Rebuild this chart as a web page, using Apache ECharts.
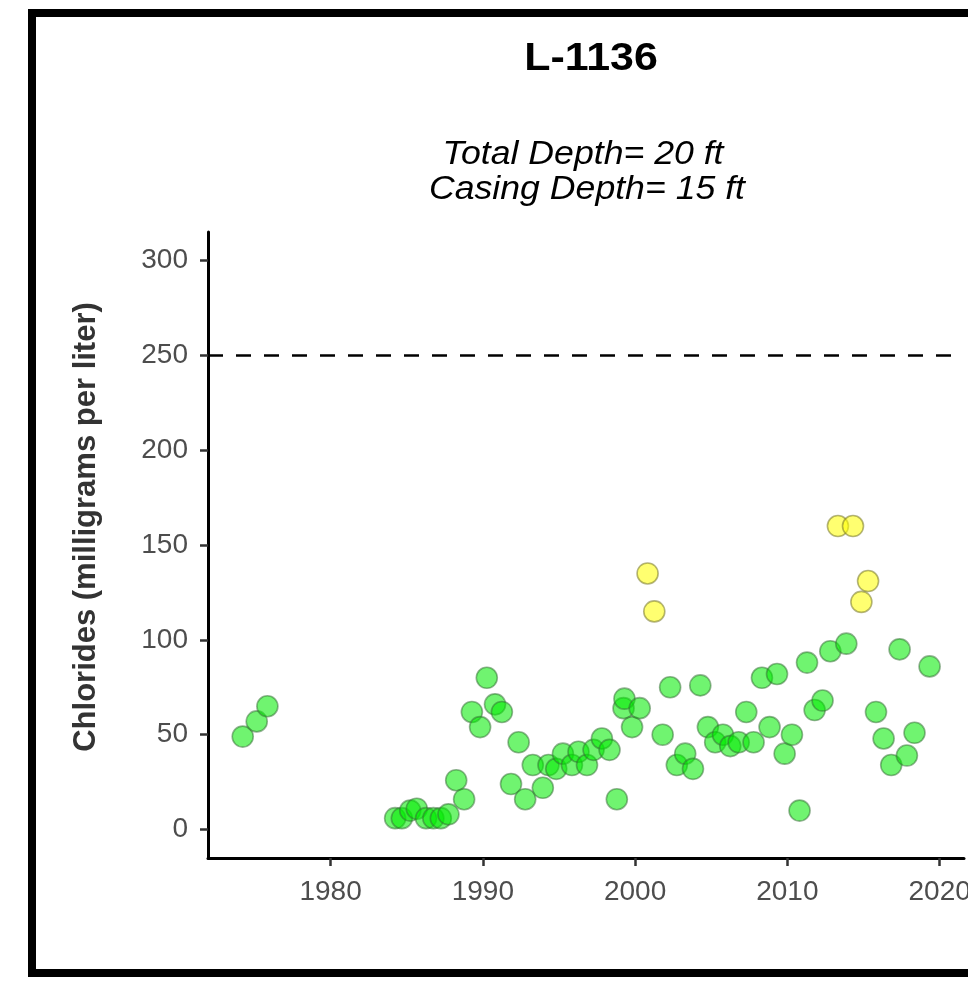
<!DOCTYPE html>
<html>
<head>
<meta charset="utf-8">
<script src="https://cdn.jsdelivr.net/npm/echarts@6/dist/echarts.min.js"></script>
<style>
html,body{margin:0;padding:0;background:#fff;}
#chart{width:968px;height:988px;}
</style>
</head>
<body>
<div id="chart"></div>
<script>
// ---- data ----
const titleText = 'L-1136';
const subtitleLines = ['Total Depth= 20 ft', 'Casing Depth= 15 ft'];
const yAxisTitle = 'Chlorides (milligrams per liter)';
const xTicks = [1980, 1990, 2000, 2010, 2020];
const yTicks = [0, 50, 100, 150, 200, 250, 300];
const thresholdValue = 250;

const greenYears = [1974.23,1975.15,1975.85,1984.24,1984.68,1985.23,1985.66,1986.27,1986.75,1987.24,1987.74,1988.25,1988.77,1989.28,1989.82,1990.26,1990.80,1991.25,1991.85,1992.35,1992.78,1993.28,1993.94,1994.31,1994.82,1995.26,1995.85,1996.28,1996.84,1997.27,1997.82,1998.32,1998.80,1999.24,1999.30,1999.80,2000.30,2001.81,2002.30,2002.74,2003.29,2003.80,2004.28,2004.78,2005.26,2005.77,2006.25,2006.80,2007.30,2007.78,2008.33,2008.83,2009.32,2009.82,2010.30,2010.80,2011.29,2011.79,2012.31,2012.82,2013.87,2015.82,2016.32,2016.82,2017.37,2017.85,2018.35,2019.34];
const greenValues = [49,57,65,6,6,10,11,6,6,6,8,26,16,62,54,80,66,62,24,46,16,34,22,34,32,40,34,41,34,42,48,42,16,64,69,54,64,50,75,34,40,32,76,54,46,50,44,46,62,46,80,54,82,40,50,10,88,63,68,94,98,62,48,34,95,39,51,86];

const yellowYears = [2000.82,2001.26,2013.32,2014.31,2014.86,2015.30];
const yellowValues = [135,115,160,160,120,131];

const toPairs = (xs, ys) => xs.map((x, i) => [x, ys[i]]);

const FONT = '"Liberation Sans", Arial, sans-serif';
const chart = echarts.init(document.getElementById('chart'), null, {renderer: 'canvas'});

chart.setOption({
  animation: false,
  backgroundColor: '#ffffff',
  grid: {left: 208, right: 4, top: 232, bottom: 130, containLabel: false, outerBoundsMode: 'none'},
  xAxis: {
    type: 'value', min: 1971.95, max: 2021.6,
    splitLine: {show: false},
    axisLine: {show: true, onZero: false, lineStyle: {color: '#000', width: 3}},
    axisTick: {show: true, length: 8, lineStyle: {color: '#333', width: 2.5}, customValues: xTicks},
    axisLabel: {show: true, customValues: xTicks, color: '#4d4d4d', fontSize: 28, fontFamily: FONT, margin: 20,
      hideOverlap: false, formatter: v => String(v)}
  },
  yAxis: {
    type: 'value', min: -15, max: 315,
    splitLine: {show: false},
    axisLine: {show: true, onZero: false, lineStyle: {color: '#000', width: 3}},
    axisTick: {show: true, length: 8, lineStyle: {color: '#333', width: 2.5}, customValues: yTicks},
    axisLabel: {show: true, customValues: yTicks, color: '#4d4d4d', fontSize: 28, fontFamily: FONT, margin: 20,
      formatter: v => String(v)}
  },
  series: [
    {
      type: 'scatter', name: 'threshold', data: [],
      markLine: {
        silent: true, symbol: ['none', 'none'], label: {show: false},
        lineStyle: {color: '#000', width: 2.5, type: [15, 13]},
        data: [{yAxis: thresholdValue}]
      }
    },
    {
      type: 'scatter', name: 'below', symbol: 'circle', symbolSize: 21,
      itemStyle: {color: 'rgba(0,235,0,0.7)', borderColor: 'rgba(50,110,50,0.65)', borderWidth: 1.6},
      data: toPairs(greenYears, greenValues)
    },
    {
      type: 'scatter', name: 'above', symbol: 'circle', symbolSize: 21,
      itemStyle: {color: 'rgba(255,255,0,0.7)', borderColor: 'rgba(120,120,40,0.7)', borderWidth: 1.6},
      data: toPairs(yellowYears, yellowValues)
    }
  ],
  graphic: [
    {type: 'rect', shape: {x: 32, y: 13, width: 1000, height: 960},
      style: {fill: 'none', stroke: '#000', lineWidth: 8}, z: 100},
    {type: 'text', x: 591, y: 60, scaleX: 1.13, style: {text: titleText, font: 'bold 38px ' + FONT, fill: '#000', align: 'center', verticalAlign: 'middle'}},
    {type: 'text', x: 583, y: 155, scaleX: 1.08, style: {text: subtitleLines[0], font: 'italic 33px ' + FONT, fill: '#000', align: 'center', verticalAlign: 'middle'}},
    {type: 'text', x: 587, y: 190, scaleX: 1.08, style: {text: subtitleLines[1], font: 'italic 33px ' + FONT, fill: '#000', align: 'center', verticalAlign: 'middle'}},
    {type: 'text', x: 86, y: 527, rotation: Math.PI / 2,
      style: {text: yAxisTitle, font: 'bold 31px ' + FONT, fill: '#333', align: 'center', verticalAlign: 'middle'}}
  ]
});
</script>
</body>
</html>
